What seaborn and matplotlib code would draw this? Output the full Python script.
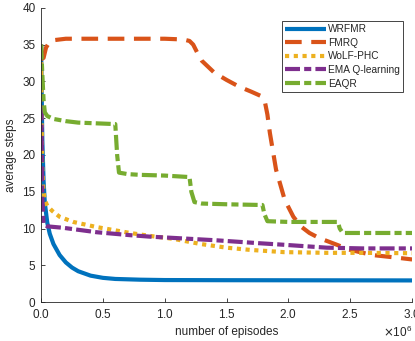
import numpy as np
import pandas as pd
import matplotlib
matplotlib.use("Agg")
import matplotlib.pyplot as plt
import seaborn as sns

# episodes in units of 1e6
wrfmr_x = [0, 0.005, 0.01, 0.02, 0.03, 0.05, 0.07, 0.1, 0.15, 0.2, 0.25, 0.3, 0.4, 0.5, 0.6, 0.8, 1.0, 1.5, 2.0, 2.5, 3.0]
wrfmr_y = [35, 28, 22, 16.5, 13.5, 10.8, 9.3, 7.9, 6.4, 5.4, 4.7, 4.2, 3.6, 3.3, 3.15, 3.05, 3.0, 2.98, 2.97, 2.96, 2.95]

fmrq_x = [0, 0.02, 0.04, 0.07, 0.1, 0.2, 0.5, 0.8, 1.0, 1.15, 1.2, 1.23, 1.26, 1.3, 1.35, 1.4, 1.5, 1.6, 1.7,
          1.78, 1.81, 1.83, 1.85, 1.9, 1.97, 2.04, 2.1, 2.17, 2.25, 2.36, 2.5, 2.68, 2.9, 3.0]
fmrq_y = [33.0, 33.2, 34.6, 35.4, 35.6, 35.8, 35.8, 35.8, 35.8, 35.7, 35.5, 35.0, 34.0, 32.8, 32.0, 31.2, 30.2, 29.3, 28.6,
          28.0, 27.2, 25.5, 23.0, 18.0, 13.9, 11.6, 10.3, 9.4, 8.7, 8.0, 7.1, 6.4, 6.0, 5.8]

wolf_x = [0, 0.005, 0.01, 0.02, 0.03, 0.05, 0.09, 0.15, 0.26, 0.45, 0.72, 0.88, 1.07, 1.29, 1.5, 1.69, 1.96, 2.31, 2.6, 3.0]
wolf_y = [35, 24, 18, 15, 13.9, 13.1, 12.4, 11.6, 10.9, 10.2, 9.4, 9.0, 8.6, 7.9, 7.4, 7.1, 6.8, 6.7, 6.7, 6.65]

ema_x = [0, 0.005, 0.01, 0.02, 0.05, 0.18, 0.45, 0.72, 0.88, 1.1, 1.42, 1.77, 1.96, 2.31, 2.6, 3.0]
ema_y = [35, 22, 14, 10.6, 10.3, 10.1, 9.5, 9.1, 8.9, 8.7, 8.4, 8.0, 7.8, 7.4, 7.3, 7.3]

eaqr_x = [0, 0.01, 0.02, 0.03, 0.05, 0.1, 0.2, 0.3, 0.45, 0.6, 0.615, 0.63, 0.7, 0.8, 1.0, 1.2, 1.215, 1.24,
          1.3, 1.5, 1.79, 1.805, 1.83, 2.0, 2.2, 2.4, 2.415, 2.44, 2.7, 3.0]
eaqr_y = [35, 31, 27.5, 25.8, 25.3, 24.9, 24.6, 24.4, 24.3, 24.2, 20, 17.6, 17.4, 17.3, 17.2, 17.0, 15, 13.6,
          13.4, 13.3, 13.2, 12, 11.0, 10.9, 10.9, 10.9, 10, 9.4, 9.4, 9.4]

series = [
    ("WRFMR", wrfmr_x, wrfmr_y, "#0072BD", "-"),
    ("FMRQ", fmrq_x, fmrq_y, "#D95319", (0, (4, 2.3))),
    ("WoLF-PHC", wolf_x, wolf_y, "#EDB120", (0, (1, 1.1))),
    ("EMA Q-learning", ema_x, ema_y, "#7E2F8E", (0, (3.6, 1.0, 1.7, 1.0))),
    ("EAQR", eaqr_x, eaqr_y, "#77AC30", (0, (3.6, 1.0, 1.7, 1.0))),
]

sns.set_style("ticks")
plt.rcParams['font.family'] = ['Liberation Sans', 'DejaVu Sans']

fig = plt.figure(figsize=(4.15, 3.41), dpi=100)
ax = fig.add_axes([0.099, 0.114, 0.894, 0.863])

for name, xs, ys, col, ls in series:
    df = pd.DataFrame({"x": np.array(xs) * 1e6, "y": ys})
    sns.lineplot(data=df, x="x", y="y", ax=ax, color=col, lw=3, linestyle=ls,
                 label=name, sort=False, estimator=None, solid_capstyle="butt", dash_capstyle="butt")

ax.set_xlim(0, 3e6)
ax.set_ylim(0, 40)
ax.set_xticks(np.arange(0, 3.01e6, 0.5e6))
ax.set_yticks(np.arange(0, 41, 5))
ax.ticklabel_format(axis="x", style="sci", scilimits=(6, 6), useMathText=True)
ax.tick_params(direction="in", length=3, width=0.6, labelsize=8.5, colors="#262626", pad=4)
ax.xaxis.get_offset_text().set_fontsize(8.5)
ax.set_xlabel("number of episodes", fontsize=8.5, color="#262626")
ax.set_ylabel("average steps", fontsize=8.5, color="#262626")
for s in ["left", "bottom"]:
    ax.spines[s].set_linewidth(0.6)
    ax.spines[s].set_color("#262626")
sns.despine(ax=ax)

leg = ax.legend(loc="upper right", fontsize=7.3, handlelength=4.0, frameon=True, fancybox=False,
                framealpha=1, borderpad=0.35, labelspacing=0.35, handletextpad=0.2,
                borderaxespad=0, bbox_to_anchor=(0.976, 0.956))
leg.get_frame().set_edgecolor("#262626")
leg.get_frame().set_linewidth(0.6)

fig.savefig("out.png", dpi=100)
